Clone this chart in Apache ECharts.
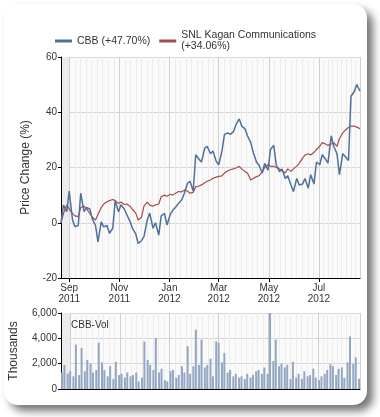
<!DOCTYPE html>
<html><head><meta charset="utf-8">
<script src="https://cdn.jsdelivr.net/npm/echarts@6/dist/echarts.min.js"></script>
<style>html,body{margin:0;padding:0;background:#fff}#c{width:380px;height:417px}</style>
</head><body><div id="c"></div>
<script>
const dates = ['2011-08-22','2011-08-25','2011-08-29','2011-09-01','2011-09-05','2011-09-08','2011-09-12','2011-09-15','2011-09-19','2011-09-22','2011-09-26','2011-09-29',
'2011-10-03','2011-10-06','2011-10-10','2011-10-13','2011-10-17','2011-10-20','2011-10-24','2011-10-27','2011-10-31',
'2011-11-03','2011-11-07','2011-11-10','2011-11-14','2011-11-17','2011-11-21','2011-11-24','2011-11-28',
'2011-12-01','2011-12-05','2011-12-08','2011-12-12','2011-12-15','2011-12-19','2011-12-22','2011-12-26','2011-12-29',
'2012-01-02','2012-01-05','2012-01-09','2012-01-12','2012-01-16','2012-01-19','2012-01-23','2012-01-26','2012-01-30',
'2012-02-02','2012-02-06','2012-02-09','2012-02-13','2012-02-16','2012-02-20','2012-02-23','2012-02-27',
'2012-03-01','2012-03-05','2012-03-08','2012-03-12','2012-03-15','2012-03-19','2012-03-22','2012-03-26','2012-03-29',
'2012-04-02','2012-04-05','2012-04-09','2012-04-12','2012-04-16','2012-04-19','2012-04-23','2012-04-26','2012-04-30',
'2012-05-03','2012-05-07','2012-05-10','2012-05-14','2012-05-17','2012-05-21','2012-05-24','2012-05-28','2012-05-31',
'2012-06-04','2012-06-07','2012-06-11','2012-06-14','2012-06-18','2012-06-21','2012-06-25','2012-06-28',
'2012-07-02','2012-07-05','2012-07-09','2012-07-12','2012-07-16','2012-07-19','2012-07-23','2012-07-26','2012-07-30',
'2012-08-02','2012-08-06','2012-08-09','2012-08-13','2012-08-16','2012-08-20'];

const cbb = [0,6.4,4,11.5,1,-1.4,-1,10.7,4,5.5,5,1.5,
-1,-6.9,0.3,-1.5,-1,-3.8,-2,8,4,
6.5,5,3,0.5,-2,-4,-7.5,-6.5,
-5,1,3.5,-2,0,-4.5,2.5,3.4,-0.8,
3,4.5,5.8,7,8.3,10.5,14.3,15,11.5,
24.6,23,22,27,27.7,25,26,22.2,
21,26,32,32.5,32,33,35.5,37.6,35,
34,31.5,29,25.5,22,20.8,18,21.5,19,
26.5,28,21,18.5,19.5,16,17,13.7,11.3,
16,13.7,14,16,12.5,17.4,14,22,
21,24.6,23,21.6,31.5,27.7,25,17.4,25,
24,22.5,45.8,47.5,50,47.7];

const snl = [0,3.3,6.4,5,3.3,2.5,2.2,5.5,6,5,3.5,2,
1,3,5.5,6.8,7.6,8,8.4,8,7,
7.5,6.6,6.8,6,4.8,3.5,1,2,
6,7.5,6.4,6,6.5,6.8,9.4,10,9.6,
10.3,10,10.8,11.3,11.2,11.8,11.5,10.7,11,
13,13.3,13.7,14.5,15,15.5,16.1,16.5,
16.8,17,18,18.8,19.2,19.5,19.8,20.4,19.5,
18.5,18,15.5,16,16.7,17,18.5,20,21,
20.5,20.4,20,19.5,18.8,18,19.5,18.6,19.5,
20.5,21.5,23.4,24.5,25,24.5,25.5,26.5,
27.7,29,28.5,28,28.5,29,27.7,30.5,32.5,
33.5,34.5,35,35,34.6,34.06];

const vol = [1300,1900,1200,1400,1000,3500,1100,3250,1400,2300,2000,1300,
1500,3650,2100,1500,1000,1800,800,2150,1100,
1200,900,1300,1000,1100,1300,600,900,
3750,2300,1900,1500,4030,1300,1600,700,600,
1400,1500,900,1100,1800,1300,3370,1200,1800,
4680,1900,3890,1700,1900,2400,1000,3760,
3650,2100,2840,1300,1500,1000,1200,900,1000,
800,1200,900,1100,1400,1500,1200,1700,1200,
6000,2200,3890,1800,2000,1700,1900,800,2150,
900,1200,800,1400,1000,1100,1600,900,
700,1000,1200,1500,1950,1800,1100,1600,1700,
900,2100,4150,2000,2500,800];

const seriesNames = ['CBB (+47.70%)', 'SNL Kagan Communications\n(+34.06%)'];
const priceTicks = {min: -20, max: 60, interval: 20};
const volTicks = {min: 0, max: 6000, interval: 2000};
const monthNames = ['Jan','Feb','Mar','Apr','May','Jun','Jul','Aug','Sep','Oct','Nov','Dec'];

const FONT = '"Liberation Sans", Arial, sans-serif';
const DAY = 86400000;
const xMin = +new Date(2011, 7, 22);
const xMax = +new Date(2012, 7, 20);
const pts = a => dates.map((d, i) => [d, a[i]]);

const chart = echarts.init(document.getElementById('c'), null, {renderer: 'canvas'});
const xCommon = {
  type: 'time', min: xMin, max: xMax, splitNumber: 6,
  minInterval: 59 * DAY, maxInterval: 62 * DAY,
  axisLine: {show: true, onZero: false, lineStyle: {color: '#000', width: 1}},
  splitLine: {show: true, lineStyle: {color: '#cfcfcf', width: 1}},
  minorTick: {show: false, splitNumber: 9},
  minorSplitLine: {show: true, lineStyle: {color: '#ececec', width: 1}}
};
chart.setOption({
  animation: false,
  textStyle: {fontFamily: FONT},
  graphic: [
    {type: 'rect', z: -20, shape: {x: 4, y: 4, width: 363, height: 401, r: 14},
     style: {fill: '#fff', shadowBlur: 8, shadowOffsetX: 6, shadowOffsetY: 6, shadowColor: 'rgba(0,0,0,0.55)'}},
    {type: 'text', z: 10, left: 71, top: 320, style: {text: 'CBB-Vol', font: '10px ' + FONT, fill: '#333'}}
  ],
  legend: {
    left: 50, top: 25, itemWidth: 17, itemHeight: 3, itemGap: 9,
    icon: 'rect',
    textStyle: {fontSize: 10.5, color: '#333', fontFamily: FONT, lineHeight: 11},
    data: seriesNames
  },
  grid: [
    {left: 61, top: 57, width: 299, height: 221, show: true, backgroundColor: '#fafafa', borderWidth: 0},
    {left: 61, top: 313, width: 299, height: 76, show: true, backgroundColor: '#fafafa', borderWidth: 0}
  ],
  xAxis: [
    Object.assign({}, xCommon, {gridIndex: 0,
      axisTick: {show: true, length: 4, lineStyle: {color: '#000'}},
      axisLabel: {show: true, fontSize: 10, color: '#333', lineHeight: 11, margin: 5,
        showMinLabel: false, showMaxLabel: false,
        formatter: v => { const d = new Date(v); return monthNames[d.getMonth()] + '\n' + d.getFullYear(); }}}),
    Object.assign({}, xCommon, {gridIndex: 1,
      axisTick: {show: false}, axisLabel: {show: false}})
  ],
  yAxis: [
    {type: 'value', gridIndex: 0, min: priceTicks.min, max: priceTicks.max, interval: priceTicks.interval,
     name: 'Price Change (%)', nameLocation: 'middle', nameGap: 27,
     nameTextStyle: {fontSize: 12, color: '#333', fontFamily: FONT},
     axisLine: {show: true, lineStyle: {color: '#000'}},
     axisTick: {show: true, length: 3, lineStyle: {color: '#000'}},
     axisLabel: {fontSize: 10, color: '#333', margin: 4},
     splitLine: {show: true, lineStyle: {color: '#d6d6d6'}}},
    {type: 'value', gridIndex: 1, min: volTicks.min, max: volTicks.max, interval: volTicks.interval,
     name: 'Thousands', nameLocation: 'middle', nameGap: 41,
     nameTextStyle: {fontSize: 12, color: '#333', fontFamily: FONT},
     axisLine: {show: true, lineStyle: {color: '#000'}},
     axisTick: {show: true, length: 3, lineStyle: {color: '#000'}},
     axisLabel: {fontSize: 10, color: '#333', margin: 4,
       formatter: v => v.toLocaleString('en-US')},
     splitLine: {show: true, lineStyle: {color: '#d6d6d6'}}}
  ],
  series: [
    {name: seriesNames[0], type: 'line', xAxisIndex: 0, yAxisIndex: 0, data: pts(cbb),
     showSymbol: false, color: '#4e7199', lineStyle: {width: 1.5, color: '#4e7199'}, z: 4},
    {name: seriesNames[1], type: 'line', xAxisIndex: 0, yAxisIndex: 0, data: pts(snl),
     showSymbol: false, color: '#a34c48', lineStyle: {width: 1.2, color: '#a34c48'}, z: 3},
    {name: 'CBB-Vol', type: 'bar', xAxisIndex: 1, yAxisIndex: 1, data: pts(vol),
     barWidth: 2, itemStyle: {color: '#93a6c2'}}
  ]
});
</script></body></html>
